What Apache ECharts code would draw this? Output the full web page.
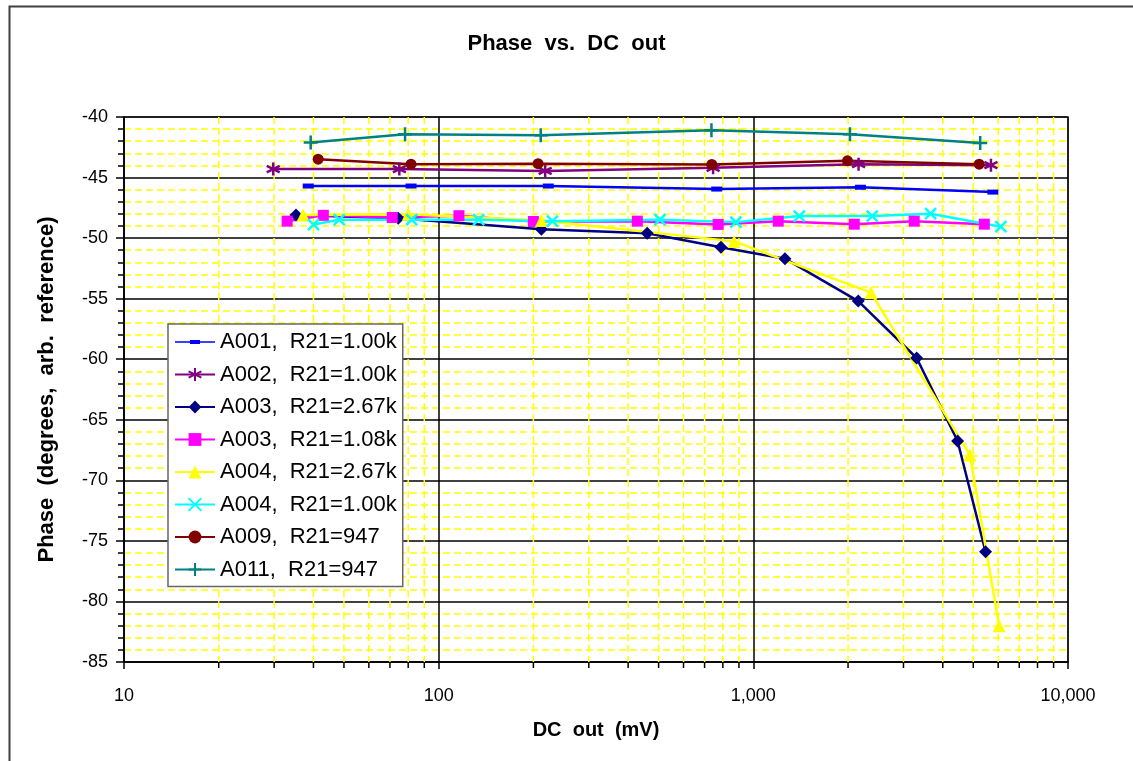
<!DOCTYPE html>
<html>
<head>
<meta charset="utf-8">
<script src="https://cdn.jsdelivr.net/npm/echarts@6/dist/echarts.min.js"></script>
<style>
html,body{margin:0;padding:0;background:#fff;}
#chart{width:1133px;height:761px;}
</style>
</head>
<body>
<div id="chart"></div>
<script>
// ---- data (DC out in mV, phase in degrees) ----
const seriesNames = [
  'A001,  R21=1.00k', 'A002,  R21=1.00k', 'A003,  R21=2.67k', 'A003,  R21=1.08k',
  'A004,  R21=2.67k', 'A004,  R21=1.00k', 'A009,  R21=947', 'A011,  R21=947'
];
const a001X = [38.5, 81.7, 223, 765, 2190, 5770];
const a001Y = [-45.7, -45.7, -45.7, -45.95, -45.8, -46.2];
const a002X = [29.8, 75.0, 218, 745, 2160, 5690];
const a002Y = [-44.3, -44.3, -44.45, -44.2, -43.9, -43.98];
const a003hX = [35.2, 74.4, 212, 460, 789, 1260, 2155, 3304, 4458, 5470];
const a003hY = [-48.1, -48.37, -49.27, -49.6, -50.76, -51.7, -55.2, -59.9, -66.75, -75.9];
const a003lX = [33.0, 43.0, 71.2, 116, 200, 428, 773, 1200, 2093, 3246, 5420];
const a003lY = [-48.6, -48.12, -48.3, -48.15, -48.63, -48.6, -48.87, -48.6, -48.85, -48.6, -48.85];
const a004hX = [37.1, 80.1, 212, 869, 2365, 4878, 6040];
const a004hY = [-48.1, -48.02, -48.55, -50.27, -54.5, -67.9, -82.0];
const a004lX = [40.0, 48.3, 82.1, 134, 230, 505, 880, 1400, 2387, 3659, 6120];
const a004lY = [-48.88, -48.48, -48.48, -48.48, -48.6, -48.48, -48.68, -48.18, -48.18, -47.98, -49.06];
const a009X = [41.4, 81.7, 207, 738, 1991, 5220];
const a009Y = [-43.48, -43.9, -43.85, -43.92, -43.62, -43.9];
const a011X = [39.2, 78.2, 211, 736, 2028, 5260];
const a011Y = [-42.1, -41.43, -41.5, -41.1, -41.43, -42.14];
// minor log gridline positions on the x axis
const xMinorTicks = [20,30,40,50,60,70,80,90,200,300,400,500,600,700,800,900,2000,3000,4000,5000,6000,7000,8000,9000];
const yMin = -85, yMax = -40, yStep = 5;

const FONT = '"Liberation Sans", Arial, sans-serif';
function pairs(xs, ys){ return xs.map((x,i)=>[x, ys[i]]); }

const asterisk = 'path://M5,0L5,10M0.7,2.5L9.3,7.5M0.7,7.5L9.3,2.5';
const xMark = 'path://M0,0L10,10M0,10L10,0';
const plusMark = 'path://M5,0L5,10M0,5L10,5';
// legend icon for A001: line with a small dash marker in the middle (40x16 box)
const dashLegendIcon = 'path://M0,0M40,16M0,7.2L40,7.2L40,8.8L0,8.8Z M15,6L25,6L25,10L15,10Z';

function lineSeries(name, xs, ys, color, symbol, size, strokeOnly){
  return {
    name: name, type: 'line', data: pairs(xs, ys),
    symbol: symbol, symbolSize: size, showSymbol: true,
    lineStyle: {color: color, width: 2.5},
    itemStyle: strokeOnly ? {color: color, borderColor: color, borderWidth: 2.5} : {color: color, borderWidth: 0},
    emphasis: {disabled: true},
    z: 3
  };
}

const chart = echarts.init(document.getElementById('chart'), null, {renderer: 'canvas'});
const option = {
  animation: false,
  backgroundColor: '#fff',
  textStyle: {fontFamily: FONT},
  title: {
    text: 'Phase  vs.  DC  out', left: 'center', top: 28,
    textStyle: {fontFamily: FONT, fontSize: 22, fontWeight: 'bold', color: '#000'}
  },
  graphic: [{
    type: 'rect', left: 7, top: 4, shape: {width: 1140, height: 775},
    style: {fill: 'none', stroke: '#404040', lineWidth: 2}, silent: true, z: -10
  }],
  grid: {
    left: 124, top: 117, width: 944, height: 545,
    show: true, borderColor: '#808080', borderWidth: 2, backgroundColor: '#fff'
  },
  legend: {
    orient: 'vertical', left: 168, top: 324,
    data: seriesNames.map((n, i) => i === 0 ? {name: n, icon: dashLegendIcon} : {name: n}),
    itemWidth: 40, itemHeight: 16, itemGap: 10.5,
    padding: [7, 6, 6, 6],
    backgroundColor: '#fff', borderColor: '#666', borderWidth: 1.5,
    textStyle: {fontFamily: FONT, fontSize: 22, color: '#000', lineHeight: 20},
    selectedMode: false
  },
  xAxis: {
    type: 'log', logBase: 10, min: 10, max: 10000,
    name: 'DC  out  (mV)', nameLocation: 'middle', nameGap: 58,
    nameTextStyle: {fontFamily: FONT, fontSize: 20, fontWeight: 'bold', color: '#000'},
    axisLine: {show: true, onZero: false, lineStyle: {color: '#000', width: 1.5}},
    axisTick: {show: true, inside: false, length: 7, lineStyle: {color: '#000', width: 1.5}},
    axisLabel: {
      fontFamily: FONT, fontSize: 18, color: '#000', margin: 25,
      formatter: v => Math.round(v).toLocaleString('en-US')
    },
    splitLine: {show: true, lineStyle: {color: '#000', width: 1.5}},
    minorTick: {show: false}, minorSplitLine: {show: false}
  },
  yAxis: {
    type: 'value', min: yMin, max: yMax, interval: yStep,
    name: 'Phase  (degrees,  arb.  reference)', nameLocation: 'middle', nameGap: 66,
    nameRotate: 90,
    nameTextStyle: {fontFamily: FONT, fontSize: 22, fontWeight: 'bold', color: '#000'},
    axisLine: {show: true, lineStyle: {color: '#000', width: 1.5}},
    axisTick: {show: true, inside: false, length: 8, lineStyle: {color: '#000', width: 1.5}},
    minorTick: {show: true, splitNumber: 5, length: 6, lineStyle: {color: '#000', width: 1.5}},
    axisLabel: {fontFamily: FONT, fontSize: 18, color: '#000', margin: 16},
    splitLine: {show: true, lineStyle: {color: '#000', width: 1.5}},
    minorSplitLine: {show: true, lineStyle: {color: '#FFFF00', width: 1.5, type: [7, 4]}}
  },
  series: [
    {
      name: 'minorX', type: 'custom', data: xMinorTicks.map(v => [v, yMin]),
      encode: {x: 0, y: 1}, clip: false, silent: true, z: 1,
      renderItem: function(params, api){
        const x = api.value(0);
        const top = api.coord([x, yMax]);
        const bot = api.coord([x, yMin]);
        return {type: 'group', children: [
          {type: 'line', shape: {x1: top[0], y1: top[1], x2: bot[0], y2: bot[1]},
           style: {stroke: '#FFFF00', lineWidth: 1.5, lineDash: [7, 4]}},
          {type: 'line', shape: {x1: bot[0], y1: bot[1], x2: bot[0], y2: bot[1] + 6},
           style: {stroke: '#000', lineWidth: 1.5}}
        ]};
      }
    },
    lineSeries(seriesNames[0], a001X, a001Y, '#0000FF', 'rect', [11, 5], false),
    lineSeries(seriesNames[1], a002X, a002Y, '#800080', asterisk, 13, true),
    lineSeries(seriesNames[2], a003hX, a003hY, '#000080', 'diamond', 13, false),
    lineSeries(seriesNames[3], a003lX, a003lY, '#FF00FF', 'rect', 11, false),
    lineSeries(seriesNames[4], a004hX, a004hY, '#FFFF00', 'triangle', 13, false),
    lineSeries(seriesNames[5], a004lX, a004lY, '#00FFFF', xMark, 11, true),
    lineSeries(seriesNames[6], a009X, a009Y, '#800000', 'circle', 11, false),
    lineSeries(seriesNames[7], a011X, a011Y, '#008080', plusMark, 14, true)
  ]
};
chart.setOption(option);
</script>
</body>
</html>
